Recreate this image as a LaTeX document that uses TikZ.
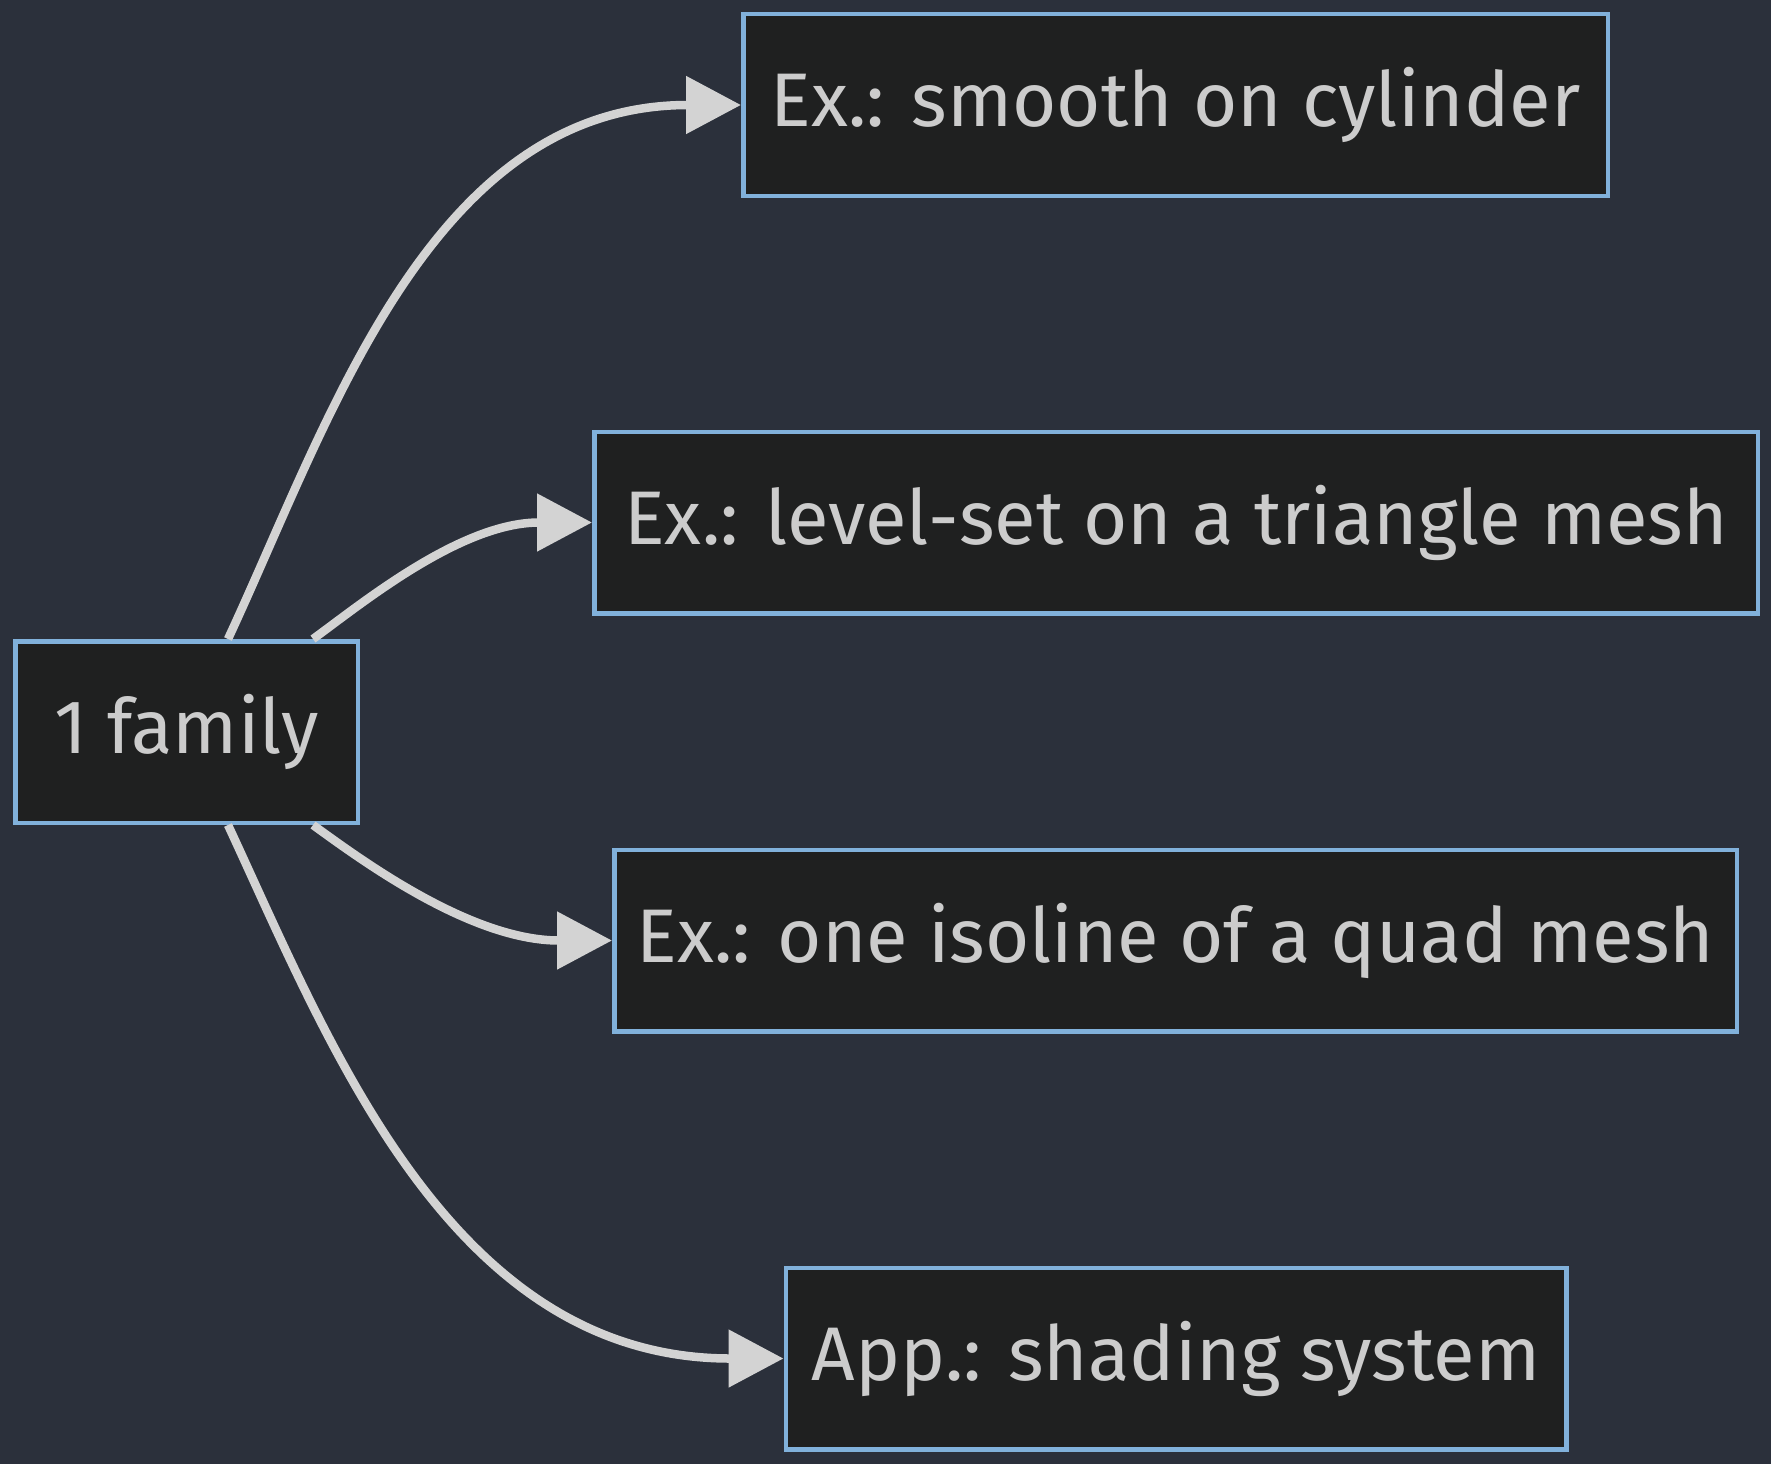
\documentclass[tikz,border=0pt]{standalone}
\usepackage{fontspec}
\setmainfont{Fira Sans}
\usetikzlibrary{arrows.meta,calc}
\definecolor{bgc}{HTML}{2B303B}
\definecolor{nodefill}{HTML}{1F2020}
\definecolor{nodeborder}{HTML}{81B1DB}
\definecolor{txtc}{HTML}{CCCCCC}
\definecolor{edgec}{HTML}{D3D3D3}
\tikzset{
  box/.style={draw=nodeborder, fill=nodefill, line width=4.5pt, rectangle,
    minimum height=181.5pt, inner sep=0pt, text=txtc,
    font=\fontsize{76}{90}\selectfont},
  link/.style={draw=edgec, line width=8.5pt,
    -{Triangle[length=55pt,width=56pt]}}
}
\begin{document}
\begin{tikzpicture}[x=1pt,y=-1pt]
\fill[bgc] (0,0) rectangle (1771,1464);
\useasboundingbox (0,0) rectangle (1771,1464);
\node[box, minimum width=342.5pt] (n0) at (186.5,732) {1 family};
\node[box, minimum width=864.5pt] (n1) at (1175.5,105) {Ex.: smooth on cylinder};
\node[box, minimum width=1163.5pt] (n2) at (1176,522.5) {Ex.: level-set on a triangle mesh};
\node[box, minimum width=1122.5pt] (n3) at (1175.5,940.5) {Ex.: one isoline of a quad mesh};
\node[box, minimum width=780.5pt] (n4) at (1176,1358.5) {App.: shading system};
\coordinate (s1) at ($(n0.north)+(41.5,0)$);
\coordinate (s2) at ($(n0.north)+(126.5,0)$);
\coordinate (s3) at ($(n0.south)+(126.5,0)$);
\coordinate (s4) at ($(n0.south)+(41.5,0)$);
\draw[link] (s1) .. controls (330,420) and (430,105) .. (n1.west);
\draw[link] (s2) .. controls (360,605) and (460,522.5) .. (n2.west);
\draw[link] (s3) .. controls (360,859) and (470,940.5) .. (n3.west);
\draw[link] (s4) .. controls (330,1044) and (450,1358.5) .. (n4.west);
\end{tikzpicture}
\end{document}
